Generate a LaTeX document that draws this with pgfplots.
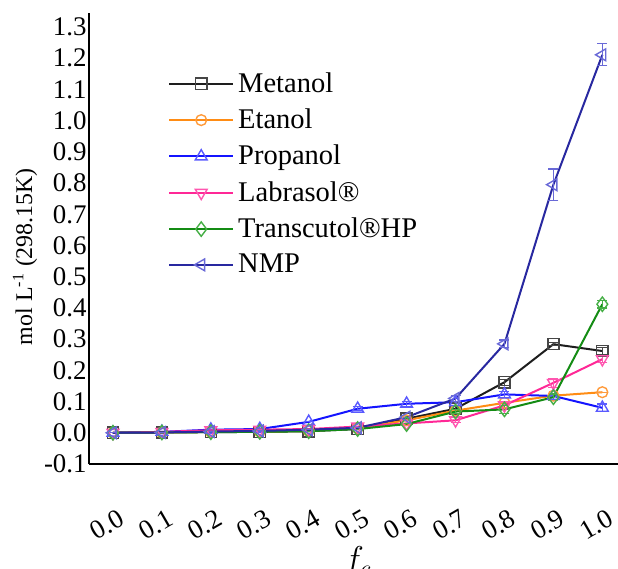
\documentclass[border=0pt]{standalone}
\usepackage{fontspec}
\setmainfont{Liberation Serif}
\usepackage{pgfplots}
\pgfplotsset{compat=1.18}
\definecolor{cMet}{RGB}{30,30,30}
\definecolor{cMetM}{RGB}{70,70,70}
\definecolor{cEta}{RGB}{255,140,20}
\definecolor{cEtaM}{RGB}{255,155,60}
\definecolor{cPro}{RGB}{20,20,255}
\definecolor{cProM}{RGB}{90,90,255}
\definecolor{cLab}{RGB}{255,40,150}
\definecolor{cLabM}{RGB}{255,85,175}
\definecolor{cTra}{RGB}{20,140,20}
\definecolor{cTraM}{RGB}{70,175,70}
\definecolor{cNMP}{RGB}{40,40,160}
\definecolor{cNMPM}{RGB}{105,105,215}
\pgfplotstableread{
x     y      e
0.0   0.000  0
0.1   0.001  0
0.2   0.002  0
0.3   0.003  0
0.4   0.005  0
0.5   0.012  0
0.6   0.045  0
0.7   0.077  0.006
0.8   0.162  0.010
0.9   0.284  0.005
1.0   0.262  0.010
}\tMet
\pgfplotstableread{
x     y      e
0.0   0.000  0
0.1   0.001  0
0.2   0.003  0
0.3   0.004  0
0.4   0.006  0
0.5   0.015  0
0.6   0.040  0
0.7   0.071  0
0.8   0.096  0
0.9   0.119  0
1.0   0.130  0
}\tEta
\pgfplotstableread{
x     y      e
0.0   0.000  0
0.1   0.003  0
0.2   0.010  0
0.3   0.012  0
0.4   0.035  0
0.5   0.077  0.006
0.6   0.093  0.008
0.7   0.098  0
0.8   0.123  0.010
0.9   0.118  0
1.0   0.080  0.012
}\tPro
\pgfplotstableread{
x     y      e
0.0   0.000  0
0.1   0.003  0
0.2   0.008  0
0.3   0.010  0
0.4   0.012  0
0.5   0.020  0
0.6   0.030  0
0.7   0.040  0.008
0.8   0.088  0.012
0.9   0.160  0.015
1.0   0.236  0.012
}\tLab
\pgfplotstableread{
x     y      e
0.0   0.000  0
0.1   0.001  0
0.2   0.002  0
0.3   0.003  0
0.4   0.005  0
0.5   0.012  0
0.6   0.028  0
0.7   0.068  0.006
0.8   0.075  0.012
0.9   0.114  0.010
1.0   0.412  0.012
}\tTra
\pgfplotstableread{
x     y      e
0.0   0.000  0
0.1   0.001  0
0.2   0.004  0
0.3   0.006  0
0.4   0.010  0
0.5   0.016  0
0.6   0.050  0
0.7   0.110  0.010
0.8   0.285  0.012
0.9   0.795  0.050
1.0   1.211  0.035
}\tNMP
\begin{document}
\begin{tikzpicture}
\begin{axis}[
  at={(0,0)}, anchor=south west,
  scale only axis, width=264.5bp, height=225.5bp,
  xmin=-0.049, xmax=1.032, ymin=-0.1, ymax=1.345,
  axis x line*=bottom, axis y line*=left,
  axis line style={line width=1bp, -},
  major tick length=0pt,
  xtick={0,0.1,0.2,0.3,0.4,0.5,0.6,0.7,0.8,0.9,1.0},
  ytick={-0.1,0,0.1,0.2,0.3,0.4,0.5,0.6,0.7,0.8,0.9,1.0,1.1,1.2,1.3},
  /pgf/number format/assume math mode=true,
  /pgf/number format/fixed,
  /pgf/number format/fixed zerofill,
  /pgf/number format/precision=1,
  tick label style={font=\fontsize{13.5}{14}\selectfont},
  xticklabel style={rotate=30, anchor=center, xshift=-17.8bp, yshift=-24.9bp},
  yticklabel style={inner sep=1bp},
  ylabel={mol L\textsuperscript{-1} (298.15K)},
  ylabel style={at={(axis description cs:-0.121,0.46)}, anchor=center, font=\fontsize{12}{13}\selectfont},
  xlabel={$f_c$},
  xlabel style={at={(axis description cs:0.5,0)}, anchor=north, yshift=-38bp, xshift=2bp, font=\fontsize{17}{18}\selectfont},
  legend style={at={(rel axis cs:0.149,0.878)}, anchor=north west, draw=none, fill=none,
    inner sep=0pt, font=\fontsize{14.3}{15}\selectfont, row sep=2.8bp},
  legend cell align=left,
  legend image code/.code={\draw[mark repeat=2,mark phase=2] plot coordinates {(0bp,0bp) (16bp,0bp) (32bp,0bp)};},
  every axis plot/.append style={line width=1bp},
  error bars/y dir=both, error bars/y explicit,
]
\addplot[cMet, mark=square, mark size=2.8bp, mark options={fill=white, draw=cMetM, line width=0.7bp},
  error bars/error bar style={cMetM, line width=0.6bp},
  error bars/error mark options={rotate=90, mark size=2.5bp, line width=0.6bp, draw=cMetM}]
  table[x=x, y=y, y error=e] {\tMet};
\addlegendentry{Metanol}
\addplot[cEta, mark=o, mark size=2.7bp, mark options={fill=white, draw=cEtaM, line width=0.7bp},
  error bars/error bar style={cEtaM, line width=0.6bp},
  error bars/error mark options={rotate=90, mark size=2.5bp, line width=0.6bp, draw=cEtaM}]
  table[x=x, y=y, y error=e] {\tEta};
\addlegendentry{Etanol}
\addplot[cPro, mark=triangle, mark size=3.4bp, mark options={fill=white, draw=cProM, line width=0.7bp},
  error bars/error bar style={cProM, line width=0.6bp},
  error bars/error mark options={rotate=90, mark size=2.5bp, line width=0.6bp, draw=cProM}]
  table[x=x, y=y, y error=e] {\tPro};
\addlegendentry{Propanol}
\addplot[cLab, mark=triangle, mark size=3.4bp, mark options={fill=white, draw=cLabM, line width=0.7bp, rotate=180},
  error bars/error bar style={cLabM, line width=0.6bp},
  error bars/error mark options={rotate=90, mark size=2.5bp, line width=0.6bp, draw=cLabM}]
  table[x=x, y=y, y error=e] {\tLab};
\addlegendentry{Labrasol®}
\addplot[cTra, mark=diamond, mark size=3.6bp, mark options={fill=white, draw=cTraM, line width=0.7bp},
  error bars/error bar style={cTraM, line width=0.6bp},
  error bars/error mark options={rotate=90, mark size=2.5bp, line width=0.6bp, draw=cTraM}]
  table[x=x, y=y, y error=e] {\tTra};
\addlegendentry{Transcutol®HP}
\addplot[cNMP, mark=triangle, mark size=3.4bp, mark options={fill=white, draw=cNMPM, line width=0.7bp, rotate=90},
  error bars/error bar style={cNMPM, line width=0.6bp},
  error bars/error mark options={rotate=90, mark size=2.5bp, line width=0.6bp, draw=cNMPM}]
  table[x=x, y=y, y error=e] {\tNMP};
\addlegendentry{NMP}
\end{axis}
\pgfresetboundingbox
\useasboundingbox (-44.5bp,-52.5bp) rectangle (264.5bp,232bp);
\end{tikzpicture}
\end{document}
